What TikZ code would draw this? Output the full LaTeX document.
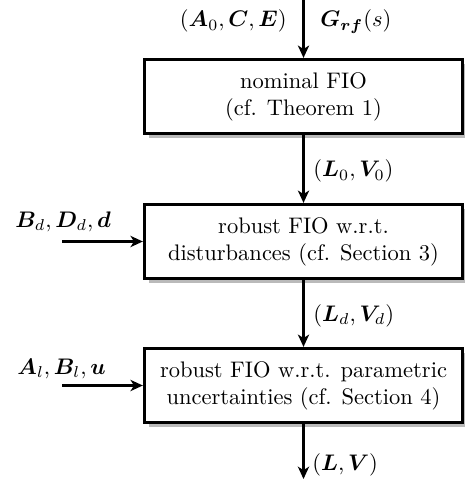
\documentclass[tikz,border=0pt]{standalone}
\usepackage{bm}
\usetikzlibrary{arrows.meta,shadows}
\begin{document}
\begin{tikzpicture}[x=0.4444pt,y=-0.4444pt,
  blk/.style={draw, line width=1.3pt, fill=white, align=center,
    minimum width=141.5pt, minimum height=33pt, inner sep=0pt,
    drop shadow={shadow xshift=2pt, shadow yshift=-2pt, fill=black!27, opacity=1}},
  flow/.style={line width=1.3pt, -{Stealth[length=5.5pt,width=5pt,inset=1.6pt]}},
  lbl/.style={inner sep=0pt}]
\useasboundingbox (0,0) rectangle (465,479);
\node[blk] (b1) at (303.5,96.5) {nominal FIO\\(cf. Theorem 1)};
\node[blk] (b2) at (303.5,241.5) {robust FIO w.r.t.\\disturbances (cf. Section 3)};
\node[blk] (b3) at (303.5,385.5) {robust FIO w.r.t. parametric\\uncertainties (cf. Section 4)};
\coordinate (top) at (303.5,0);
\coordinate (bot) at (303.5,479);
\coordinate (ind) at (62,241.5);
\coordinate (inl) at (62,385.5);
\draw[flow] (top) -- (b1);
\draw[flow] (b1) -- (b2);
\draw[flow] (b2) -- (b3);
\draw[flow] (b3) -- (bot);
\draw[flow] (ind) -- (b2);
\draw[flow] (inl) -- (b3);
\node[lbl, anchor=base east] (la) at (287,27) {$(\bm{A}_0,\bm{C},\bm{E})$};
\node[lbl, anchor=base west] (lg) at (320,27) {$\bm{G}_{\bm{rf}}(s)$};
\node[lbl, anchor=base west] (l0) at (313,177) {$(\bm{L}_0,\bm{V}_0)$};
\node[lbl, anchor=base west] (ld) at (313,321) {$(\bm{L}_d,\bm{V}_d)$};
\node[lbl, anchor=base west] (lf) at (312,470) {$(\bm{L},\bm{V})$};
\node[lbl, anchor=base west] (lbd) at (15,227) {$\bm{B}_d,\bm{D}_d,\bm{d}$};
\node[lbl, anchor=base west] (lal) at (17,374) {$\bm{A}_l,\bm{B}_l,\bm{u}$};
\end{tikzpicture}
\end{document}
